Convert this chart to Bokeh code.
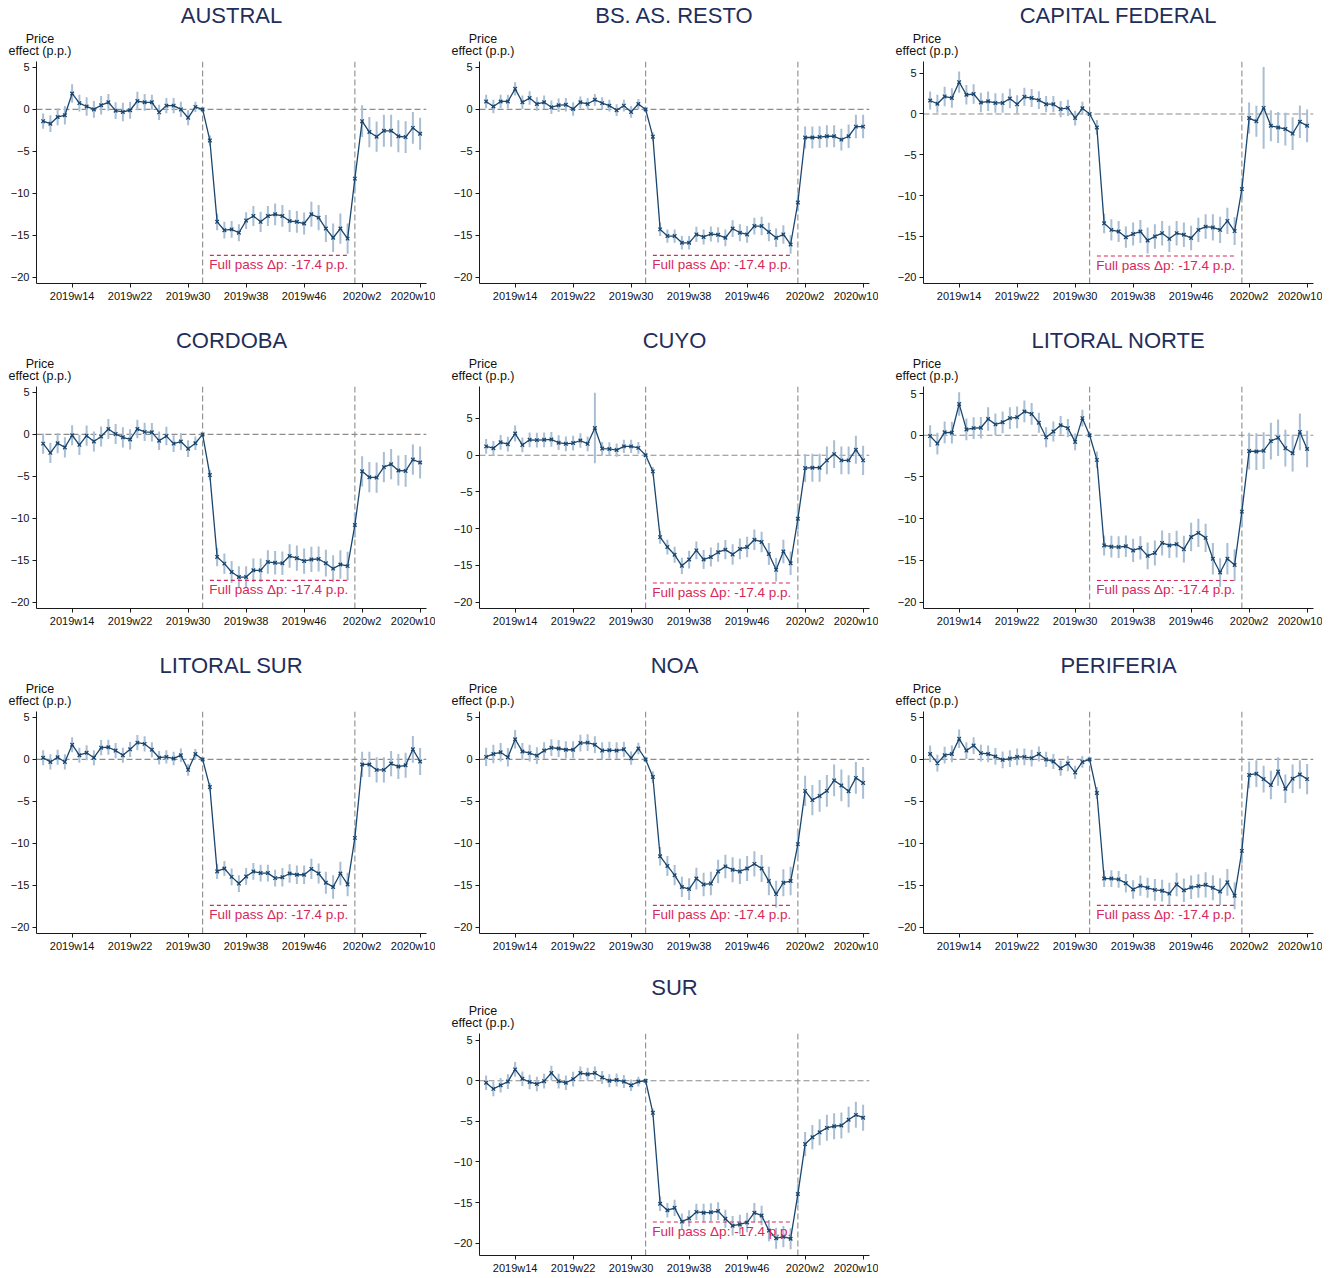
from bokeh.plotting import figure
from bokeh.layouts import column, row
from bokeh.models import Span, FixedTicker, Spacer, Range1d
from bokeh.embed import file_html
from bokeh.resources import INLINE
from bokeh.core.properties import value

# ---------------- data ----------------
weeks = [f"2019w{w}" for w in range(10, 53)] + [f"2020w{w}" for w in range(1, 11)]
tick_labels = ["2019w14", "2019w22", "2019w30", "2019w38", "2019w46", "2020w2", "2020w10"]
yticks = [-20, -15, -10, -5, 0, 5]
event_weeks = ["2019w32", "2020w1"]
fullpass_weeks = ["2019w33", "2019w52"]
fullpass_value = -17.4
fullpass_text = "Full pass \u0394p: -17.4 p.p."
ylabel_lines = ["Price", "effect (p.p.)"]

regions = ["AUSTRAL", "BS. AS. RESTO", "CAPITAL FEDERAL", "CORDOBA", "CUYO",
           "LITORAL NORTE", "LITORAL SUR", "NOA", "PERIFERIA", "SUR"]

austral = [-1.4, -1.7, -0.9, -0.7, 1.9, 0.75, 0.35, 0.0, 0.5, 0.85, -0.15, -0.3, -0.1, 1.0, 0.85, 0.85,
           -0.35, 0.45, 0.45, 0.0, -1.0, 0.3, 0.0,
           -3.7, -13.4, -14.4, -14.3, -14.7, -13.25, -12.7, -13.4, -12.7, -12.5, -12.7, -13.3, -13.4, -13.6,
           -12.5, -12.9, -14.2, -15.3, -14.2, -15.4, -8.25,
           -1.4, -2.7, -3.25, -2.55, -2.55, -3.2, -3.3, -2.2, -2.9]
austral_ci = [0.9, 1.0, 1.0, 1.1, 1.1, 1.0, 1.1, 1.0, 1.1, 1.0, 1.0, 1.1, 1.0, 1.1, 1.0, 0.9, 0.9, 0.9, 0.9, 0.9,
              0.9, 0.6, 0.0,
              0.6, 1.0, 1.0, 1.0, 1.0, 1.0, 1.2, 1.2, 1.2, 1.3, 1.3, 1.3, 1.3, 1.3, 1.5, 1.5, 1.6, 1.7, 1.8, 1.8, 1.5,
              1.9, 1.8, 1.8, 1.9, 1.9, 1.9, 1.9, 1.9, 1.9]

bsas = [0.95, 0.35, 0.95, 0.95, 2.45, 0.85, 1.35, 0.65, 0.85, 0.25, 0.5, 0.55, 0.05, 0.85, 0.65, 1.15,
        0.75, 0.45, -0.1, 0.45, -0.3, 0.65, 0.0,
        -3.25, -14.3, -15.1, -15.1, -15.9, -15.9, -14.9, -15.2, -14.85, -14.95, -15.3, -14.2, -14.7, -14.9,
        -13.9, -13.9, -14.6, -15.3, -14.9, -16.1, -11.1,
        -3.35, -3.35, -3.3, -3.2, -3.2, -3.6, -3.2, -2.05, -2.05]
bsas_ci = [0.8, 0.8, 0.8, 0.8, 0.8, 0.8, 0.8, 0.8, 0.8, 0.8, 0.8, 0.8, 0.8, 0.7, 0.7, 0.7, 0.7, 0.7, 0.7, 0.7,
           0.7, 0.6, 0.0,
           0.5, 0.8, 0.8, 0.8, 0.8, 0.8, 0.9, 0.9, 0.9, 0.9, 1.0, 1.0, 1.0, 1.0, 1.0, 1.1, 1.1, 1.1, 1.1, 1.1, 1.0,
           1.3, 1.3, 1.3, 1.3, 1.3, 1.3, 1.4, 1.4, 1.4]

capital = [1.65, 1.25, 2.15, 1.95, 3.9, 2.35, 2.45, 1.4, 1.55, 1.35, 1.35, 1.9, 1.2, 2.1, 1.95, 1.7,
           1.2, 1.2, 0.6, 0.75, -0.5, 0.7, 0.0,
           -1.65, -13.4, -14.2, -14.4, -15.1, -14.7, -14.4, -15.5, -15.0, -14.6, -15.3, -14.6, -14.8, -15.2,
           -14.2, -13.8, -13.9, -14.2, -13.1, -14.35, -9.2,
           -0.5, -0.9, 0.75, -1.45, -1.65, -1.85, -2.4, -0.95, -1.45]
capital_ci = [1.1, 1.1, 1.2, 1.2, 1.3, 1.2, 1.2, 1.2, 1.2, 1.2, 1.2, 1.2, 1.1, 1.1, 1.1, 1.1, 1.0, 1.0, 1.0, 1.0,
              0.9, 0.8, 0.0,
              0.9, 1.2, 1.3, 1.3, 1.3, 1.4, 1.4, 1.6, 1.5, 1.5, 1.6, 1.5, 1.5, 1.5, 1.5, 1.5, 1.6, 1.6, 1.6, 1.7, 1.3,
              1.9, 1.9, 5.0, 1.9, 1.9, 2.0, 2.0, 2.0, 2.0]

cordoba = [-1.1, -2.2, -1.05, -1.55, -0.1, -1.25, -0.15, -0.85, -0.25, 0.65, 0.05, -0.35, -0.6, 0.65, 0.3, 0.25,
           -0.75, -0.2, -1.1, -0.85, -1.7, -1.05, 0.0,
           -4.85, -14.6, -15.4, -16.4, -17.0, -17.0, -16.2, -16.2, -15.2, -15.3, -15.35, -14.5, -14.75, -15.1,
           -14.9, -14.85, -15.35, -16.0, -15.5, -15.7, -10.8,
           -4.4, -5.1, -5.15, -3.9, -3.55, -4.3, -4.35, -3.0, -3.35]
cordoba_ci = [1.2, 1.2, 1.2, 1.2, 1.2, 1.2, 1.2, 1.2, 1.2, 1.2, 1.2, 1.2, 1.2, 1.1, 1.1, 1.1, 1.1, 1.1, 1.0, 1.0,
              1.0, 0.8, 0.0,
              0.6, 1.1, 1.2, 1.3, 1.3, 1.3, 1.4, 1.4, 1.4, 1.4, 1.4, 1.4, 1.5, 1.5, 1.5, 1.5, 1.6, 1.6, 1.7, 1.7, 1.5,
              1.8, 1.8, 1.8, 1.8, 1.8, 1.8, 1.9, 1.8, 1.9]

cuyo = [1.2, 0.95, 1.75, 1.5, 2.95, 1.4, 2.1, 2.05, 2.1, 2.15, 1.7, 1.55, 1.65, 2.0, 1.55, 3.7,
        0.9, 0.85, 0.7, 1.2, 1.2, 1.0, 0.0,
        -2.2, -11.15, -12.5, -13.55, -15.05, -14.2, -12.95, -14.2, -13.85, -13.2, -12.85, -13.5, -12.75, -12.5,
        -11.5, -11.8, -13.45, -15.6, -13.1, -14.7, -8.65,
        -1.75, -1.7, -1.7, -0.7, 0.15, -0.7, -0.7, 0.75, -0.7]
cuyo_ci = [1.0, 1.0, 1.0, 1.0, 1.1, 1.0, 1.0, 1.0, 1.0, 1.0, 1.0, 1.0, 1.0, 1.0, 1.0, 4.8, 0.9, 0.9, 0.9, 0.9,
           0.9, 0.8, 0.0,
           0.6, 0.9, 1.0, 1.1, 1.1, 1.2, 1.2, 1.3, 1.3, 1.3, 1.3, 1.4, 1.4, 1.4, 1.4, 1.4, 1.5, 1.6, 1.6, 1.6, 1.5,
           1.9, 1.9, 1.9, 1.9, 1.9, 1.9, 1.9, 1.9, 2.0]

lit_norte = [-0.1, -1.0, 0.35, 0.3, 3.75, 0.7, 0.85, 0.9, 1.95, 1.3, 1.55, 2.05, 2.15, 2.85, 2.55, 1.5,
             -0.25, 0.45, 1.2, 0.85, -0.8, 2.05, 0.0,
             -2.95, -13.2, -13.35, -13.4, -13.3, -13.8, -13.5, -14.45, -14.1, -12.9, -13.2, -13.05, -13.65, -12.2,
             -11.7, -12.3, -14.8, -16.45, -14.8, -15.55, -9.15,
             -1.9, -1.95, -1.85, -0.7, -0.3, -1.55, -2.15, 0.4, -1.65]
lit_norte_ci = [1.3, 1.3, 1.3, 1.3, 1.4, 1.3, 1.3, 1.3, 1.4, 1.3, 1.3, 1.3, 1.3, 1.3, 1.3, 1.2, 1.2, 1.2, 1.1, 1.1,
                1.0, 1.0, 0.0,
                1.0, 1.2, 1.3, 1.3, 1.3, 1.4, 1.4, 1.6, 1.5, 1.5, 1.5, 1.6, 1.6, 1.7, 1.7, 1.7, 1.9, 1.7, 1.9, 1.9,
                1.8,
                2.2, 2.2, 2.2, 2.2, 2.2, 2.2, 2.2, 2.2, 2.2]

lit_sur = [0.2, -0.3, 0.25, -0.3, 1.75, 0.5, 0.8, 0.2, 1.4, 1.45, 1.05, 0.5, 1.2, 2.0, 1.85, 1.15,
           0.2, 0.3, 0.1, 0.5, -1.25, 0.65, 0.0,
           -3.3, -13.35, -13.0, -14.0, -14.8, -13.95, -13.35, -13.55, -13.55, -14.15, -14.05, -13.6, -13.75, -13.75,
           -13.05, -13.6, -14.7, -15.2, -13.6, -14.9, -9.35,
           -0.6, -0.6, -1.25, -1.25, -0.5, -0.85, -0.7, 1.2, -0.25]
lit_sur_ci = [0.9, 0.9, 0.9, 0.9, 0.9, 0.9, 0.9, 0.9, 0.9, 0.9, 0.9, 0.9, 0.9, 0.9, 0.9, 0.9, 0.8, 0.8, 0.8, 0.8,
              0.7, 0.6, 0.0,
              0.5, 0.9, 0.9, 1.0, 1.0, 1.0, 1.0, 1.0, 1.0, 1.0, 1.1, 1.1, 1.1, 1.1, 1.2, 1.2, 1.3, 1.4, 1.4, 1.4, 1.2,
              1.5, 1.5, 1.5, 1.5, 1.5, 1.5, 1.5, 1.6, 1.6]

noa = [0.3, 0.65, 0.85, 0.25, 2.4, 0.95, 0.75, 0.45, 1.05, 1.4, 1.3, 1.15, 1.15, 1.95, 2.0, 1.75,
       1.05, 1.1, 1.05, 1.2, 0.15, 1.3, 0.0,
       -2.1, -11.55, -12.7, -13.8, -15.2, -15.45, -14.2, -14.9, -14.8, -13.35, -12.75, -13.15, -13.35, -13.0,
       -12.45, -13.0, -14.5, -16.05, -14.7, -14.5, -10.1,
       -3.75, -4.85, -4.35, -3.75, -2.5, -3.1, -3.8, -2.2, -2.8]
noa_ci = [1.1, 1.1, 1.1, 1.1, 1.1, 1.0, 1.0, 1.0, 1.0, 1.0, 1.0, 1.0, 1.0, 1.0, 1.0, 1.0, 1.0, 1.0, 1.0, 0.9,
          0.8, 0.7, 0.0,
          0.7, 1.1, 1.2, 1.2, 1.2, 1.3, 1.3, 1.4, 1.4, 1.4, 1.4, 1.5, 1.5, 1.5, 1.5, 1.6, 1.7, 1.6, 1.6, 1.7, 1.6,
          1.8, 1.8, 1.9, 1.9, 1.9, 1.9, 1.9, 1.9, 1.9]

periferia = [0.65, -0.45, 0.5, 0.65, 2.45, 1.05, 1.65, 0.75, 0.65, 0.35, -0.05, 0.1, 0.3, 0.3, 0.15, 0.65,
             0.0, -0.25, -1.05, -0.5, -1.55, -0.3, 0.0,
             -4.0, -14.2, -14.2, -14.3, -14.75, -15.5, -15.05, -15.3, -15.55, -15.65, -16.0, -14.9, -15.6, -15.25,
             -15.1, -14.95, -15.3, -15.75, -14.65, -16.25, -10.9,
             -1.85, -1.7, -2.35, -3.05, -1.45, -3.5, -2.3, -1.8, -2.35]
periferia_ci = [1.0, 1.0, 1.0, 1.0, 1.1, 1.0, 1.0, 1.0, 1.0, 1.0, 1.0, 1.0, 1.0, 1.0, 1.0, 0.9, 0.9, 0.9, 0.9, 0.9,
                0.8, 0.7, 0.0,
                0.7, 1.0, 1.0, 1.0, 1.1, 1.1, 1.2, 1.2, 1.3, 1.3, 1.3, 1.4, 1.4, 1.4, 1.4, 1.5, 1.5, 1.6, 1.6, 1.6,
                1.5,
                1.6, 1.6, 1.6, 1.7, 1.7, 1.7, 1.7, 1.7, 1.8]

sur = [-0.25, -1.0, -0.55, -0.1, 1.4, 0.25, -0.15, -0.4, -0.05, 0.95, -0.05, -0.25, 0.2, 0.95, 0.8, 0.95,
       0.4, 0.0, 0.1, -0.1, -0.55, -0.1, 0.0,
       -3.95, -15.15, -15.95, -15.65, -17.35, -16.95, -16.15, -16.25, -16.2, -16.05, -17.0, -17.85, -17.7, -17.45,
       -16.25, -16.6, -18.45, -19.4, -19.2, -19.45, -13.95,
       -7.8, -6.95, -6.35, -5.8, -5.6, -5.5, -4.8, -4.2, -4.55]
sur_ci = [0.9, 0.9, 0.9, 0.9, 0.9, 0.9, 0.9, 0.9, 0.9, 0.9, 0.9, 0.9, 0.9, 0.8, 0.8, 0.8, 0.8, 0.8, 0.8, 0.8,
          0.7, 0.6, 0.0,
          0.5, 0.9, 0.9, 1.0, 1.0, 1.0, 1.0, 1.1, 1.1, 1.1, 1.1, 1.2, 1.2, 1.2, 1.2, 1.2, 1.3, 1.3, 1.3, 1.3, 1.2,
          1.5, 1.5, 1.6, 1.6, 1.6, 1.6, 1.6, 1.6, 1.6]

series = [austral, bsas, capital, cordoba, cuyo, lit_norte, lit_sur, noa, periferia, sur]
series_ci = [austral_ci, bsas_ci, capital_ci, cordoba_ci, cuyo_ci, lit_norte_ci, lit_sur_ci, noa_ci,
             periferia_ci, sur_ci]

# axis extents per panel (layout)
y_ranges = [(-20.75, 5.71), (-20.75, 5.71), (-20.77, 6.43), (-20.75, 5.71), (-20.86, 9.35),
            (-20.76, 5.84), (-20.75, 5.71), (-20.75, 5.71), (-20.75, 5.71), (-21.52, 5.82)]

# ---------------- style / layout ----------------
FONT = "Liberation Sans"
NAVY = "#1a476f"
CI_COL = "#a9bdd3"
TITLE_COL = "#1f2e5a"
RED = "#d8285a"
GRAY = "#8c8c8c"

FRAME_W, FRAME_H = 390, 222
B_LEFT, B_RIGHT, B_TOP, B_BOTTOM = 36, 9, 3, 22
PANEL_W = B_LEFT + FRAME_W + B_RIGHT
HEAD_H = 58  # header strip holding title and y caption (pixel coordinates, y downwards)


def make_header(name):
    h = figure(width=PANEL_W, height=HEAD_H, output_backend="svg", toolbar_location=None,
               x_range=Range1d(0, PANEL_W), y_range=Range1d(HEAD_H, 0),
               x_axis_location=None, y_axis_location=None, min_border=0, title=None)
    h.frame_align = False
    h.outline_line_color = None
    h.xgrid.visible = False
    h.ygrid.visible = False
    h.text(x=[B_LEFT + FRAME_W / 2], y=[14.7], text=[name], text_align="center",
           text_baseline="middle", text_color=TITLE_COL, text_font=value(FONT), text_font_size="22px")
    h.text(x=[39.5, 39.5], y=[38.0, 50.6], text=ylabel_lines, text_align="center",
           text_baseline="middle", text_color="#111111", text_font=value(FONT),
           text_font_size="12.5px")
    return h


def make_panel(name, vals, cis, yr):
    xs = list(range(len(weeks)))
    p = figure(frame_width=FRAME_W, frame_height=FRAME_H, output_backend="svg", toolbar_location=None,
               x_range=Range1d(-0.915, 52.88), y_range=Range1d(*yr),
               min_border_left=B_LEFT, min_border_right=B_RIGHT, min_border_top=B_TOP,
               min_border_bottom=B_BOTTOM, title=None)
    p.frame_align = False
    p.outline_line_color = None
    p.background_fill_color = "white"
    p.border_fill_color = "white"
    p.xgrid.visible = False
    p.ygrid.visible = False

    for ax in (p.xaxis[0], p.yaxis[0]):
        ax.axis_line_color = "#1a1a1a"
        ax.axis_line_width = 1
        ax.major_tick_line_color = "#1a1a1a"
        ax.major_tick_out = 4
        ax.major_tick_in = 0
        ax.minor_tick_line_color = None
        ax.major_label_text_font = FONT
        ax.major_label_text_font_size = "11px"
        ax.major_label_text_color = "#111111"
    tick_pos = [weeks.index(t) for t in tick_labels]
    p.xaxis.ticker = FixedTicker(ticks=tick_pos)
    p.xaxis.major_label_overrides = {tp: lab for tp, lab in zip(tick_pos, tick_labels)}
    p.xaxis.major_label_standoff = 2
    p.yaxis.ticker = FixedTicker(ticks=yticks)
    p.yaxis.major_label_standoff = 3

    # reference lines
    p.add_layout(Span(location=0, dimension="width", line_color=GRAY, line_dash="6 3",
                      line_width=1.1, level="underlay"))
    for ew in event_weeks:
        p.add_layout(Span(location=weeks.index(ew), dimension="height", line_color=GRAY,
                          line_dash="6 3", line_width=1.1, level="underlay"))

    lo = [v - c for v, c in zip(vals, cis)]
    hi = [v + c for v, c in zip(vals, cis)]
    p.segment(x0=xs, y0=lo, x1=xs, y1=hi, line_color=CI_COL, line_width=2)

    f0, f1 = weeks.index(fullpass_weeks[0]), weeks.index(fullpass_weeks[1])
    p.line(x=[f0, f1], y=[fullpass_value, fullpass_value], line_color=RED, line_dash="4 3",
           line_width=1.1)

    p.line(x=xs, y=vals, line_color=NAVY, line_width=1.3)
    p.scatter(x=xs, y=vals, marker="x", size=5, line_color=NAVY, line_width=1.3)

    p.text(x=[(f0 + f1) / 2], y=[fullpass_value], text=[fullpass_text], text_align="center",
           text_baseline="top", y_offset=2, text_color=RED, text_font=value(FONT),
           text_font_size="13.5px")
    return column(make_header(name), p)


panels = [make_panel(n, v, c, yr) for n, v, c, yr in zip(regions, series, series_ci, y_ranges)]

rows = []
for r in range(3):
    a, b, c = panels[3 * r:3 * r + 3]
    rows.append(row(a, Spacer(width=8), b, Spacer(width=9), c))
    rows.append(Spacer(height=20 if r < 2 else 17))
rows.append(row(Spacer(width=PANEL_W + 8), panels[9]))
layout = column(*rows)

open("out.html", "w").write(file_html(layout, INLINE))
